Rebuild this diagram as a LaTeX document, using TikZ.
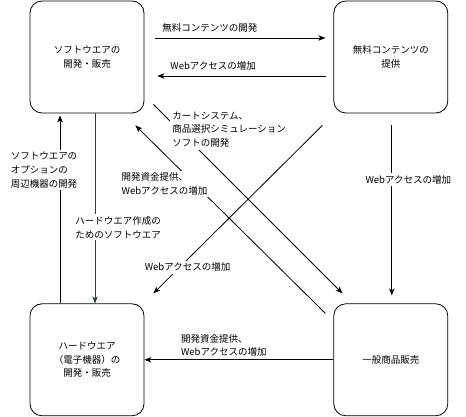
\documentclass[tikz,border=0pt]{standalone}
\usepackage{fontspec}
\setmainfont{Noto Sans CJK JP}
\usetikzlibrary{arrows.meta}
\usetikzlibrary{positioning}

\definecolor{hwgreen}{RGB}{29,72,43}

\begin{document}
\begin{tikzpicture}[x=1pt,y=1pt,
font=\fontsize{9.5}{13.8}\selectfont,
box/.style={draw, rounded corners=12pt, minimum width=114pt, minimum height=112pt, align=center, line width=.8pt},
arr/.style={-{Stealth[length=7pt,width=5.5pt,inset=2pt]}, line width=.8pt},
lbl/.style={fill=white, align=left, inner sep=2pt},
lblsoft/.style={lbl, fill opacity=.6, text opacity=1}]
\useasboundingbox (0,0) rectangle (466,417);
\node[box] (soft) at (87,360) {ソフトウエアの\\開発・販売};
\node[box, right=189pt of soft] (free) {無料コンテンツの\\提供};
\node[box, below=190pt of soft] (hard) {ハードウエア\\（電子機器）の\\開発・販売};
\node[box, below=190pt of free] (shop) {一般商品販売};
\draw[arr] ([xshift=11pt,yshift=19pt]soft.east) -- node[lbl, above=3.5pt, pos=.32]{無料コンテンツの開発} ([xshift=-8pt,yshift=19pt]free.west);
\draw[arr] ([xshift=-7pt,yshift=-19pt]free.west) -- node[lbl, above=3.5pt, pos=.67]{Webアクセスの増加} ([xshift=13pt,yshift=-19pt]soft.east);
\draw[arr] ([xshift=-27pt]hard.north) -- node[lbl, pos=.71, xshift=-16pt]{ソフトウエアの\\オプションの\\周辺機器の開発} ([xshift=-27pt,yshift=-2pt]soft.south);
\draw[arr, hwgreen] ([xshift=8pt]soft.south) -- node[lbl, text=black, pos=.6, xshift=23pt]{ハードウエア作成の\\ためのソフトウエア} ([xshift=8pt]hard.north);
\draw[arr] ([xshift=1pt,yshift=-12pt]free.south) -- node[lbl, pos=.32, xshift=16.5pt]{Webアクセスの増加} ([xshift=1pt,yshift=8pt]shop.north);
\draw[arr] ([xshift=-8pt,yshift=-10pt]shop.north west) -- node[lbl, pos=.71, xshift=-26pt, yshift=-4pt]{開発資金提供、\\Webアクセスの増加} ([xshift=-9pt,yshift=-12pt]soft.south east);
\draw[arr] ([xshift=9pt,yshift=9pt]soft.south east) -- node[lbl, pos=.16, xshift=45.5pt, yshift=5pt]{カートシステム、\\商品選択シミュレーション\\ソフトの開発} ([xshift=9pt,yshift=10pt]shop.north west);
\draw[arr] ([xshift=-11pt,yshift=-12pt]free.south west) -- node[lbl, pos=.845, xshift=8pt]{Webアクセスの増加} ([xshift=9pt,yshift=10pt]hard.north east);
\draw[arr] (shop.west) -- node[lblsoft, pos=.58, yshift=14.5pt]{開発資金提供、\\Webアクセスの増加} (hard.east);
\end{tikzpicture}
\end{document}
